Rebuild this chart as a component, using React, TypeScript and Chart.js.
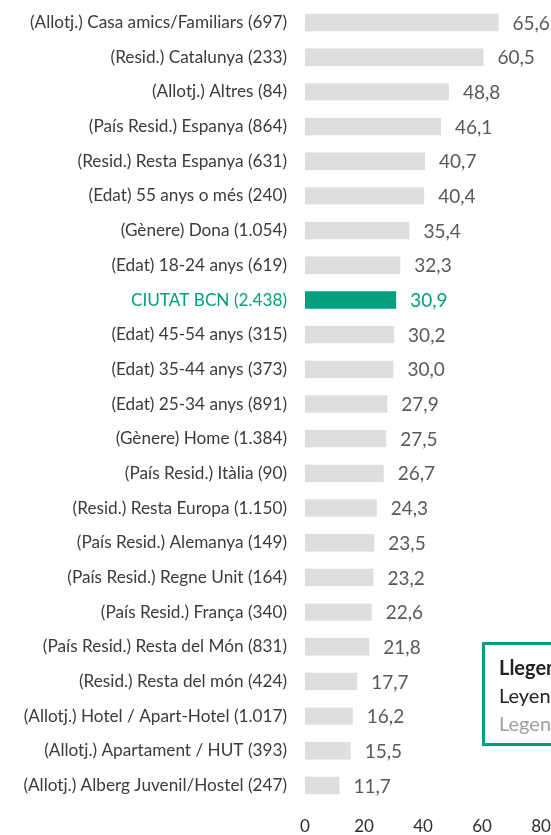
import React, { useEffect, useRef } from "react";
import { Chart, registerables } from "chart.js";

Chart.register(...registerables);

const categories: string[] = [
  "(Allotj.) Casa amics/Familiars (697)",
  "(Resid.) Catalunya (233)",
  "(Allotj.) Altres (84)",
  "(País Resid.) Espanya (864)",
  "(Resid.) Resta Espanya (631)",
  "(Edat) 55 anys o més (240)",
  "(Gènere) Dona (1.054)",
  "(Edat) 18-24 anys (619)",
  "CIUTAT BCN (2.438)",
  "(Edat) 45-54 anys (315)",
  "(Edat) 35-44 anys (373)",
  "(Edat) 25-34 anys (891)",
  "(Gènere) Home (1.384)",
  "(País Resid.) Itàlia (90)",
  "(Resid.) Resta Europa (1.150)",
  "(País Resid.) Alemanya (149)",
  "(País Resid.) Regne Unit (164)",
  "(País Resid.) França (340)",
  "(País Resid.) Resta del Món (831)",
  "(Resid.) Resta del món (424)",
  "(Allotj.) Hotel / Apart-Hotel (1.017)",
  "(Allotj.) Apartament / HUT (393)",
  "(Allotj.) Alberg Juvenil/Hostel (247)",
];

const values: number[] = [
  65.6, 60.5, 48.8, 46.1, 40.7, 40.4, 35.4, 32.3, 30.9, 30.2, 30.0, 27.9, 27.5,
  26.7, 24.3, 23.5, 23.2, 22.6, 21.8, 17.7, 16.2, 15.5, 11.7,
];

const highlightCategory = "CIUTAT BCN (2.438)";
const xTicks: number[] = [0, 20, 40, 60, 80];
const legendLines: string[] = ["Llegenda", "Leyenda", "Legend"];

const TEAL = "#00A07E";
const GREY_BAR = "#DDDEE0";
const LABEL = "#3B3B3B";
const VALUE = "#595959";
const FONT = "Lato, 'Open Sans', sans-serif";

const fmt = (v: number) => v.toFixed(1).replace(".", ",");

export default function App() {
  const ref = useRef<HTMLCanvasElement | null>(null);

  useEffect(() => {
    if (!ref.current) return;
    const hi = categories.indexOf(highlightCategory);
    const valuePlugin = {
      id: "valueLabels",
      afterDatasetsDraw(chart: any) {
        const ctx = chart.ctx;
        const meta = chart.getDatasetMeta(0);
        ctx.save();
        ctx.font = `19px ${FONT}`;
        ctx.textBaseline = "middle";
        ctx.textAlign = "left";
        meta.data.forEach((el: any, i: number) => {
          ctx.fillStyle = i === hi ? TEAL : VALUE;
          ctx.fillText(fmt(values[i]), el.x + 14, el.y + 1);
        });
        ctx.restore();
      },
    };
    const chart = new Chart(ref.current, {
      type: "bar",
      data: {
        labels: categories,
        datasets: [
          {
            data: values,
            backgroundColor: values.map((_, i) => (i === hi ? TEAL : GREY_BAR)),
            barPercentage: 0.5,
            categoryPercentage: 1,
          },
        ],
      },
      options: {
        indexAxis: "y",
        responsive: false,
        animation: false,
        layout: { padding: { top: 5.2, bottom: 0, left: 0, right: 10 } },
        plugins: { legend: { display: false }, tooltip: { enabled: false } },
        scales: {
          x: {
            min: 0,
            max: 80,
            afterBuildTicks: (scale: any) => {
              scale.ticks = xTicks.map((v) => ({ value: v }));
            },
            grid: { display: false, drawTicks: false },
            border: { display: false },
            ticks: {
              color: "#2E2E2E",
              font: { family: FONT, size: 17 },
              padding: 14,
            },
            afterFit: (scale: any) => {
              scale.height = 32.2;
              scale.paddingLeft = 0;
              scale.paddingRight = 0;
            },
          },
          y: {
            grid: { display: false, drawTicks: false },
            border: { display: false },
            ticks: {
              color: (c: any) => (c.index === hi ? TEAL : LABEL),
              font: { family: FONT, size: 17.2 },
              padding: 18,
              autoSkip: false,
            },
            afterFit: (scale: any) => {
              scale.width = 305;
              scale.paddingTop = 0;
              scale.paddingBottom = 0;
            },
          },
        },
      },
      plugins: [valuePlugin],
    } as any);
    return () => chart.destroy();
  }, []);

  return (
    <div
      style={{
        position: "fixed",
        left: 0,
        top: 0,
        width: 551,
        height: 835,
        overflow: "hidden",
        background: "#ffffff",
      }}
    >
      <canvas ref={ref} width={551} height={835} style={{ width: 551, height: 835, display: "block" }} />
      <div
        style={{
          position: "absolute",
          left: 482,
          top: 642,
          width: 130,
          height: 104,
          boxSizing: "border-box",
          border: `3px solid ${TEAL}`,
          paddingLeft: 14,
          paddingTop: 8,
          fontFamily: FONT,
          fontSize: 20,
          lineHeight: "28px",
          whiteSpace: "nowrap",
        }}
      >
        <div style={{ fontWeight: 700, color: "#222222" }}>{legendLines[0]}</div>
        <div style={{ color: "#222222" }}>{legendLines[1]}</div>
        <div style={{ color: "#A0A0A0" }}>{legendLines[2]}</div>
      </div>
    </div>
  );
}
